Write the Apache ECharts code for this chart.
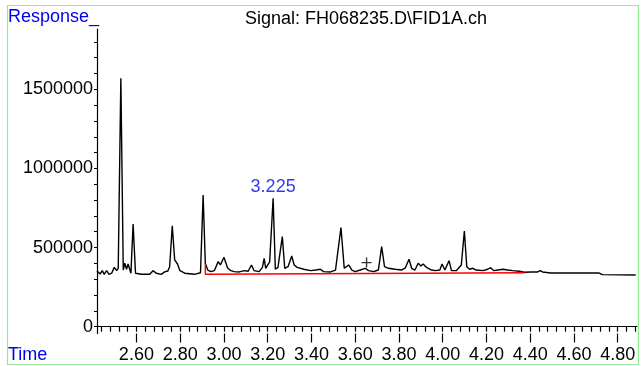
<!DOCTYPE html>
<html>
<head>
<meta charset="utf-8">
<script src="https://cdn.jsdelivr.net/npm/echarts@6/dist/echarts.min.js"></script>
<style>
  html, body { margin: 0; padding: 0; background: #fff; }
  #chart { width: 641px; height: 366px; }
</style>
</head>
<body>
<div id="chart"></div>
<script>
// FID chromatogram trace: retention time (min) and detector response
const times = [
  2.420, 2.426, 2.434, 2.444, 2.453, 2.464, 2.475, 2.487, 2.499, 2.510,
  2.517, 2.529, 2.540, 2.547, 2.555, 2.562, 2.575, 2.585, 2.596, 2.623,
  2.661, 2.676, 2.691, 2.714, 2.729, 2.744, 2.752, 2.764, 2.775, 2.788,
  2.799, 2.821, 2.865, 2.893, 2.905, 2.915, 2.926, 2.941, 2.956, 2.974,
  2.984, 3.000, 3.017, 3.032, 3.047, 3.070, 3.093, 3.111, 3.126, 3.138,
  3.161, 3.176, 3.184, 3.191, 3.209, 3.225, 3.235, 3.247, 3.267, 3.278,
  3.293, 3.310, 3.321, 3.335, 3.365, 3.396, 3.419, 3.441, 3.456, 3.487,
  3.510, 3.535, 3.550, 3.570, 3.585, 3.600, 3.623, 3.646, 3.661, 3.684,
  3.706, 3.721, 3.734, 3.752, 3.782, 3.812, 3.829, 3.846, 3.858, 3.873,
  3.888, 3.900, 3.911, 3.922, 3.934, 3.949, 3.967, 3.987, 3.997, 4.010,
  4.029, 4.040, 4.062, 4.085, 4.099, 4.110, 4.123, 4.138, 4.153, 4.184,
  4.206, 4.219, 4.234, 4.252, 4.275, 4.297, 4.320, 4.350, 4.373, 4.403,
  4.434, 4.446, 4.456, 4.494, 4.600, 4.715, 4.730, 4.882
];
const signal = [
  352000, 348000, 333000, 354000, 331000, 354000, 331000, 338000, 375000, 354000,
  369000, 1570000, 358000, 401000, 363000, 396000, 338000, 649000, 338000, 331000,
  331000, 354000, 338000, 331000, 346000, 352000, 379000, 638000, 422000, 396000,
  354000, 338000, 331000, 341000, 832000, 401000, 358000, 348000, 354000, 411000,
  390000, 439000, 371000, 354000, 348000, 346000, 354000, 350000, 390000, 354000,
  348000, 375000, 432000, 369000, 409000, 812000, 363000, 375000, 569000, 369000,
  379000, 447000, 390000, 375000, 363000, 354000, 358000, 363000, 348000, 346000,
  358000, 626000, 369000, 390000, 358000, 348000, 358000, 369000, 354000, 348000,
  358000, 506000, 379000, 369000, 363000, 358000, 371000, 426000, 369000, 358000,
  401000, 384000, 396000, 379000, 369000, 358000, 354000, 358000, 396000, 358000,
  417000, 354000, 354000, 390000, 605000, 379000, 363000, 369000, 358000, 354000,
  363000, 373000, 354000, 358000, 363000, 358000, 354000, 350000, 344000, 346000,
  346000, 354000, 346000, 339000, 339000, 339000, 329000, 327000
];

// Integration baseline (drop line + baseline)
const baselineTimes = [2.915, 2.915, 4.375];
const baselineValues = [401000, 331000, 341000];

// Annotated peaks (retention times shown above the peak)
const labelledPeaks = [3.225];

// Event marker
const markerTimes = [3.652];
const markerValues = [405000];

// Axis ticks
const xMajorTicks = [2.60, 2.80, 3.00, 3.20, 3.40, 3.60, 3.80, 4.00, 4.20, 4.40, 4.60, 4.80];
const yLabelTicks = [0, 500000, 1000000, 1500000];
const yMinorStep = 100000;
const xMinorStep = 0.04;

const xMin = 2.42, xMax = 4.888;
const yMin = -43000, yMax = 1881000;

const xMinorTicks = [];
for (let k = 0; ; k++) {
  const v = +(2.44 + k * xMinorStep).toFixed(2);
  if (v > xMax) break;
  xMinorTicks.push(v);
}
const yTicks = [];
for (let v = 0; v <= yMax; v += yMinorStep) yTicks.push(v);

const trace = times.map((t, i) => [t, signal[i]]);
const baseline = baselineTimes.map((t, i) => [t, baselineValues[i]]);
const peakPoints = labelledPeaks.map(t => [t, signal[times.indexOf(t)]]);
const markers = markerTimes.map((t, i) => [t, markerValues[i]]);

const BLUE = '#0000f0';
const FONT = 'Liberation Sans, Arial, sans-serif';

const chart = echarts.init(document.getElementById('chart'), null, { renderer: 'canvas' });
chart.setOption({
  animation: false,
  backgroundColor: '#ffffff',
  grid: { left: 97, right: 4, top: 29, bottom: 32.5, containLabel: false },
  xAxis: [
    {
      type: 'value', min: xMin, max: xMax, position: 'bottom',
      axisLine: { show: true, lineStyle: { color: '#000', width: 1.2 } },
      axisTick: { show: true, length: 5, customValues: xMinorTicks, lineStyle: { color: '#000', width: 1.2 } },
      axisLabel: {
        customValues: xMajorTicks, margin: 13, color: '#000', fontSize: 18, fontFamily: FONT,
        formatter: v => v.toFixed(2)
      },
      splitLine: { show: false }
    },
    {
      type: 'value', min: xMin, max: xMax, position: 'bottom',
      axisLine: { show: false },
      axisTick: { show: true, length: 9, customValues: xMajorTicks, lineStyle: { color: '#000', width: 1.2 } },
      axisLabel: { show: false },
      splitLine: { show: false }
    }
  ],
  yAxis: {
    type: 'value', min: yMin, max: yMax,
    axisLine: { show: true, lineStyle: { color: '#000', width: 1.2 } },
    axisTick: { show: true, length: 3, customValues: yTicks, lineStyle: { color: '#000', width: 1 } },
    axisLabel: {
      customValues: yLabelTicks, margin: 4, color: '#000', fontSize: 18, fontFamily: FONT,
      formatter: v => String(v)
    },
    splitLine: { show: false }
  },
  series: [
    {
      type: 'line', data: trace, xAxisIndex: 0, showSymbol: false, symbol: 'none',
      lineStyle: { color: '#000', width: 1.4 }, z: 2
    },
    {
      type: 'line', data: baseline, xAxisIndex: 0, showSymbol: false, symbol: 'none',
      lineStyle: { color: '#ff0000', width: 1.4 }, z: 3
    },
    {
      type: 'scatter', data: peakPoints, xAxisIndex: 0, symbolSize: 0, z: 4,
      label: {
        show: true, position: 'top', distance: 2, color: BLUE, fontSize: 18, fontFamily: FONT,
        formatter: p => p.value[0].toFixed(3)
      }
    },
    {
      type: 'scatter', data: markers, xAxisIndex: 0, z: 4,
      symbol: 'path://M4.3,0H5.7V4.3H10V5.7H5.7V10H4.3V5.7H0V4.3H4.3Z',
      symbolSize: 10, itemStyle: { color: '#000' }
    }
  ],
  graphic: [
    {
      type: 'rect', silent: true,
      shape: { x: 7.5, y: 5.5, width: 631, height: 359 },
      style: { fill: 'none', stroke: '#90ee90', lineWidth: 1.2 }
    },
    {
      type: 'text', x: 8, y: 17,
      style: { text: 'Response_', fill: BLUE, font: '18px ' + FONT, textAlign: 'left', textVerticalAlign: 'middle' }
    },
    {
      type: 'text', x: 8, y: 355,
      style: { text: 'Time', fill: BLUE, font: '18px ' + FONT, textAlign: 'left', textVerticalAlign: 'middle' }
    },
    {
      type: 'text', x: 366, y: 19,
      style: { text: 'Signal: FH068235.D\\FID1A.ch', fill: '#000', font: '18px ' + FONT, textAlign: 'center', textVerticalAlign: 'middle' }
    }
  ]
});
</script>
</body>
</html>
